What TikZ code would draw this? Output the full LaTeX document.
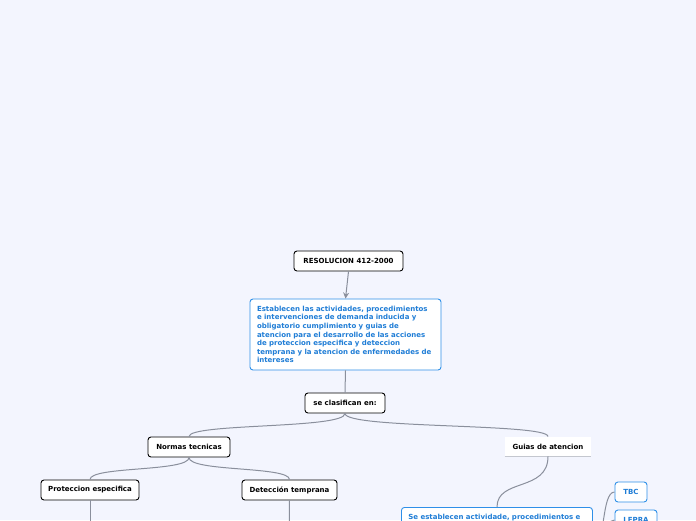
\documentclass[tikz,border=0pt]{standalone}
\usepackage{fontspec}
\setmainfont{DejaVu Sans}
\usetikzlibrary{arrows.meta}
\definecolor{bg}{HTML}{F3F5FE}
\definecolor{conn}{HTML}{8A8F9C}
\definecolor{mblue}{HTML}{2E8FE8}
\definecolor{tblue}{HTML}{1F7DD6}
\definecolor{shadowgrey}{HTML}{C4C7CF}
\tikzset{
  base/.style={font=\fontsize{7}{8.6}\selectfont\bfseries, rounded corners=3pt, line width=0.9pt, inner sep=0pt},
  blackbox/.style={base, draw=black, fill=white, text=black},
  bluebox/.style={base, draw=mblue, fill=white, text=tblue},
  plainbox/.style={base, fill=white, text=black, rounded corners=0pt},
  conn/.style={draw=conn, line width=1pt},
}
\begin{document}
\begin{tikzpicture}[x=1pt,y=-1pt]
\fill[bg] (0,0) rectangle (696,520);
\useasboundingbox (0,0) rectangle (696,520);
\clip (0,0) rectangle (696,520);

\node[blackbox, minimum width=109pt, minimum height=20pt] (res) at (348.5,261) {RESOLUCION 412-2000};
\node[bluebox, minimum width=191pt, minimum height=71pt, text width=177pt, inner xsep=7pt, align=left] (desc) at (345.5,334.5) {%
Establecen las actividades, procedimientos\\
e intervenciones de demanda inducida y\\
obligatorio cumplimiento y guias de\\
atencion para el desarrollo de las acciones\\
de proteccion especifica y deteccion\\
temprana y la atencion de enfermedades de\\
intereses};
\node[blackbox, minimum width=80pt, minimum height=20pt] (clas) at (345,403) {se clasifican en:};
\node[blackbox, minimum width=82pt, minimum height=20pt] (norm) at (189,447) {Normas tecnicas};
\node[plainbox, minimum width=86pt, minimum height=19pt] (guias) at (548,446.5) {Guias de atencion};
\draw[shadowgrey, line width=1pt] (guias.south west) -- (guias.south east);
\node[blackbox, minimum width=98pt, minimum height=20pt] (prot) at (90,490) {Proteccion especifica};
\node[blackbox, minimum width=95pt, minimum height=20pt] (det) at (289.5,490) {Detección temprana};
\node[bluebox, anchor=north west, text width=177pt, align=left, inner xsep=7pt, inner ysep=0pt, text depth=60pt] (se) at (401,507) {\rule{0pt}{12pt}Se establecen actividade, procedimientos e};
\node[bluebox, minimum width=32pt, minimum height=20pt] (tbc) at (631,492) {TBC};
\node[bluebox, minimum width=42pt, minimum height=20pt] (lepra) at (636,520) {LEPRA};

\coordinate (protdown) at (90,560);
\coordinate (detdown) at (289,560);
\coordinate (seright) at (592,548);

\draw[conn, -{Stealth[length=6pt,width=6pt]}] (res.south) -- (desc.north);
\draw[conn] (desc.south) -- (clas.north);
\draw[conn] (clas.south) .. controls (345,429) and (189,423) .. (norm.north);
\draw[conn] (clas.south) .. controls (345,429) and (548,423) .. (guias.north);
\draw[conn] (norm.south) .. controls (189,472) and (90,466) .. (prot.north);
\draw[conn] (norm.south) .. controls (189,472) and (289.5,466) .. (det.north);
\draw[conn] (prot.south) -- (protdown);
\draw[conn] (det.south) -- (detdown);
\draw[conn] (guias.south) .. controls (548,492) and (497,478) .. (se.north -| 497,0);
\draw[conn] (seright) .. controls (606,548) and (601,492) .. (tbc.west);
\draw[conn] (seright) .. controls (606,548) and (604,520) .. (lepra.west);
\end{tikzpicture}
\end{document}
